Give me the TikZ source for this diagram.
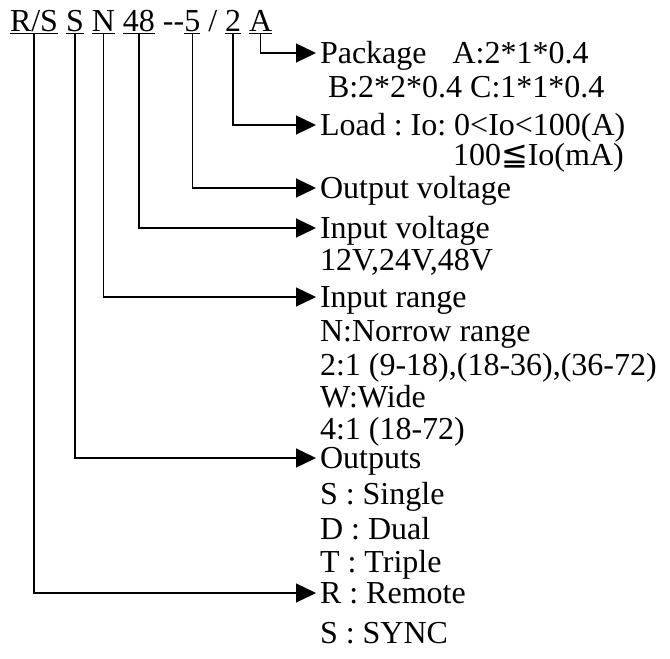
\documentclass[tikz,border=0pt]{standalone}
\usepackage{fontspec}
\setmainfont{Liberation Serif}
\newfontfamily\symfont{DejaVu Sans}
\usetikzlibrary{arrows.meta, positioning}
\frenchspacing

\begin{document}
\begin{tikzpicture}[
    x=1pt, y=-1pt,
    font=\fontsize{32}{34}\selectfont,
    code/.style={inner sep=0pt, outer sep=0pt, text height=22pt, text depth=2.5pt},
    lbl/.style={inner xsep=4pt, inner ysep=7pt, outer sep=0pt, text height=20pt, text depth=0pt},
    arrow/.style={-{Triangle[length=20pt, width=19pt]}, line width=1.3pt},
    uline/.style={line width=1.3pt}
]
\useasboundingbox (0,0) rectangle (670,659);

% Model code
\node[code, anchor=base west] (rs) at (10,31) {R/S};
\node[code, right=8pt of rs] (s) {S};
\node[code, right=8pt of s] (n) {N};
\node[code, right=8pt of n] (v48) {48};
\node[code, right=8pt of v48] (dash) {-{}-};
\node[code, right=0pt of dash] (v5) {5};
\node[code, right=8pt of v5] (slash) {/};
\node[code, right=8pt of slash] (v2) {2};
\node[code, right=8pt of v2] (a) {A};
\foreach \n in {rs, s, n, v48, v5, v2, a}
    \draw[uline] (\n.south west) -- (\n.south east);

% Package
\node[lbl, anchor=west] (pkg) at (316,53) {Package\hspace{26pt}A:2*1*0.4};
\node[lbl, below right=0pt and 8pt of pkg.south west] (pkgb) {B:2*2*0.4 C:1*1*0.4};

% Load
\node[lbl, anchor=west] (load) at (316,125) {Load : Io: 0<Io<100(A)};
\node[lbl, below right=-4pt and 133pt of load.south west] (loadb) {100{\symfont ≦}Io(mA)};

% Output / input voltage
\node[lbl, anchor=west] (vout) at (316,188) {Output voltage};
\node[lbl, anchor=west] (vin) at (316,228) {Input voltage};
\node[lbl, below right=-2pt and 0pt of vin.south west] (vin1) {12V,24V,48V};

% Input range
\node[lbl, anchor=west] (range) at (316,297) {Input range};
\node[lbl, below right=0pt and 0pt of range.south west] (rng1) {N:Norrow range};
\node[lbl, below right=0pt and 0pt of rng1.south west] (rng2) {2:1 (9-18),(18-36),(36-72)};
\node[lbl, below right=-2pt and 0pt of rng2.south west] (rng3) {W:Wide};
\node[lbl, below right=-2pt and 0pt of rng3.south west] (rng4) {4:1 (18-72)};

% Outputs
\node[lbl, anchor=west] (outs) at (316,458) {Outputs};
\node[lbl, below right=2pt and 0pt of outs.south west] (out1) {S : Single};
\node[lbl, below right=1pt and 0pt of out1.south west] (out2) {D : Dual};
\node[lbl, below right=-1pt and 0pt of out2.south west] (out3) {T : Triple};

% Remote
\node[lbl, anchor=west] (remote) at (316,593) {R : Remote};
\node[lbl, below right=6pt and 0pt of remote.south west] (rem1) {S : SYNC};

\foreach \from/\to in {a/pkg, v2/load, v5/vout, v48/vin, n/range, s/outs, rs/remote}
    \draw[arrow] (\from.south) |- (\to.west);
\end{tikzpicture}
\end{document}
